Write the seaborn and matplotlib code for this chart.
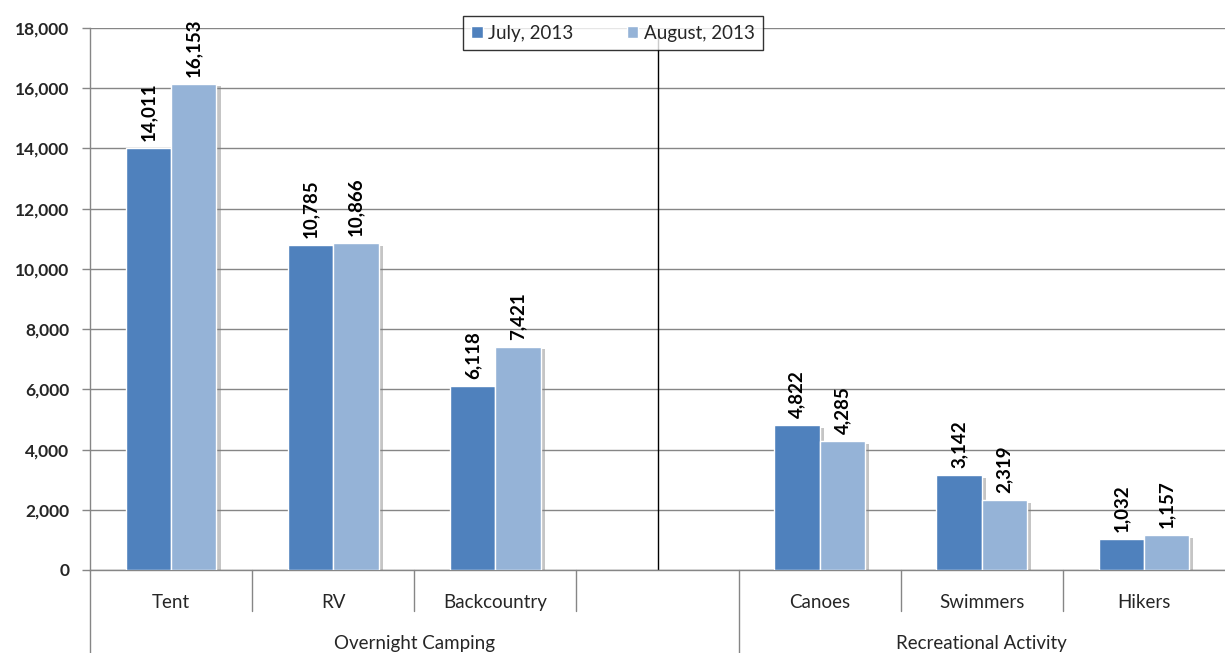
import matplotlib
matplotlib.use("Agg")
import matplotlib.pyplot as plt
import matplotlib.patheffects as pe
import seaborn as sns
import pandas as pd

# Visitor counts by activity
categories = ["Tent", "RV", "Backcountry", "Canoes", "Swimmers", "Hikers"]
groups = ["Overnight Camping", "Overnight Camping", "Overnight Camping",
          "Recreational Activity", "Recreational Activity", "Recreational Activity"]
july = [14011, 10785, 6118, 4822, 3142, 1032]
august = [16153, 10866, 7421, 4285, 2319, 1157]
series = ["July, 2013", "August, 2013"]
yticks = list(range(0, 18001, 2000))

# Axis slots: an empty slot separates the two activity groups
slot_order = ["Tent", "RV", "Backcountry", " ", "Canoes", "Swimmers", "Hikers"]
group_spans = [("Overnight Camping", -0.5, 3.5), ("Recreational Activity", 3.5, 6.5)]

df = pd.DataFrame({
    "Category": categories * 2,
    "Visitors": july + august,
    "Month": [series[0]] * len(categories) + [series[1]] * len(categories),
})

sns.set_theme(style="white")
plt.rcParams["font.family"] = ["Lato", "DejaVu Sans"]

fig = plt.figure(figsize=(12.25, 6.53), dpi=100)
ax = fig.add_axes([90 / 1225, 1 - 570 / 653, 1 - 90 / 1225, (570 - 28) / 653])

palette = {series[0]: "#4F81BD", series[1]: "#95B3D7"}
sns.barplot(data=df, x="Category", y="Visitors", hue="Month", order=slot_order,
            hue_order=series, palette=palette, width=0.56, saturation=1,
            edgecolor="white", linewidth=1, ax=ax, zorder=3)

for cont in ax.containers:
    ax.bar_label(cont, labels=[f"{v:,.0f}" for v in cont.datavalues], rotation=90,
                 padding=5, fontsize=13.5, fontweight="bold", color="black")

ax.set_ylim(0, 18000)
ax.set_xlim(-0.5, 6.5)
ax.set_yticks(yticks)
ax.set_yticklabels([f"{v:,}" for v in yticks], fontsize=12.5, fontweight="bold")
ax.tick_params(axis="y", length=6, width=1, color="#868686", direction="out", pad=9, left=True)
ax.yaxis.grid(True, color="#868686", linewidth=1)
ax.set_axisbelow(True)
for side in ["top", "right"]:
    ax.spines[side].set_visible(False)
for side in ["left", "bottom"]:
    ax.spines[side].set_color("#868686")
    ax.spines[side].set_linewidth(1)
ax.set_xlabel("")
ax.set_ylabel("")

# Group separator inside the plot
ax.axvline(3, color="black", linewidth=1, zorder=2)

# Two-level category axis
ax.set_xticks([])
trans = ax.get_xaxis_transform()
for i, name in enumerate(slot_order):
    ax.text(i, -0.06, name.strip(), transform=trans, ha="center", va="center", fontsize=13.5)
for b in [0.5, 1.5, 2.5, 4.5, 5.5]:
    ax.plot([b, b], [0, -0.075], transform=trans, color="#868686", lw=1, clip_on=False)
for name, x0, x1 in group_spans:
    ax.text((x0 + x1) / 2, -0.135, name, transform=trans, ha="center", va="center", fontsize=13.5)
    ax.plot([x0, x0], [0, -0.16], transform=trans, color="#868686", lw=1, clip_on=False)

leg = ax.legend(loc="lower left", bbox_to_anchor=(0.3286, 0.959, 0.2643, 0.0594),
                mode="expand", borderaxespad=0, ncol=2, frameon=True,
                fancybox=False, edgecolor="black", fontsize=13.5, handlelength=0.6,
                handleheight=0.6, handletextpad=0.3, columnspacing=1.0, borderpad=0.45)
leg.get_frame().set_linewidth(1)
leg.set_zorder(10)

# Soft drop shadow on the bars only
shadow = [pe.SimplePatchShadow(offset=(3, -2), shadow_rgbFace="#7f7f7f", alpha=0.45), pe.Normal()]
for patch in ax.patches:
    patch.set_path_effects(shadow)

fig.savefig("out.png", dpi=100)
